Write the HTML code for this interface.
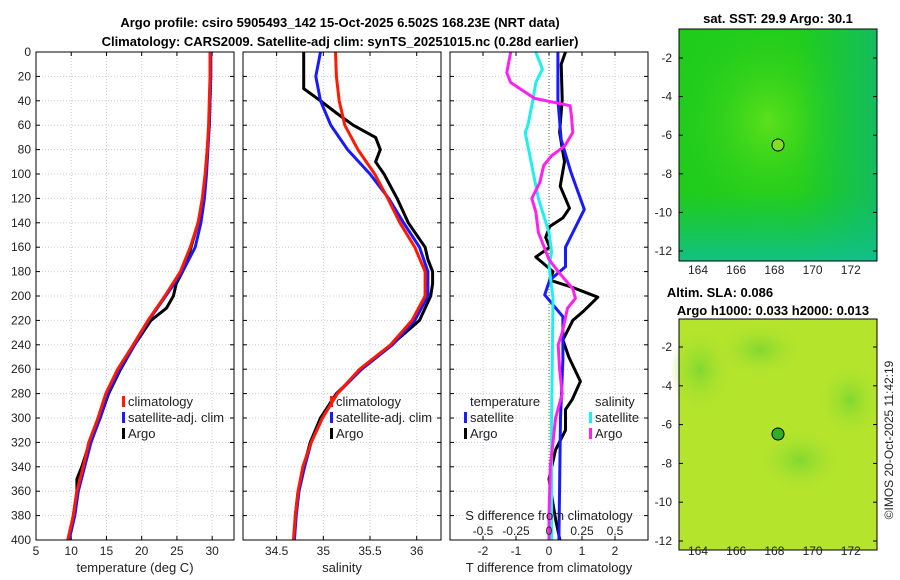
<!DOCTYPE html>
<html><head><meta charset="utf-8"><style>
body{margin:0;background:#fff;}
svg{display:block;font-family:"Liberation Sans","DejaVu Sans",sans-serif;}
</style></head><body>
<svg id="fig" width="900" height="580" viewBox="0 0 900 580">
<defs>
<radialGradient id="sstBlob" cx="0.45" cy="0.4" r="0.5"><stop offset="0" stop-color="#5ce01c"/><stop offset="1" stop-color="#22cc18" stop-opacity="0"/></radialGradient>
<linearGradient id="sstTop" x1="0" y1="0" x2="1" y2="0"><stop offset="0.6" stop-color="#10c060" stop-opacity="0"/><stop offset="1" stop-color="#10b870" stop-opacity="0.8"/></linearGradient>
<linearGradient id="sstBot" x1="0" y1="0" x2="0" y2="1"><stop offset="0.7" stop-color="#10c070" stop-opacity="0"/><stop offset="1" stop-color="#10c090" stop-opacity="0.9"/></linearGradient>
<radialGradient id="slaBlob" cx="0.5" cy="0.5" r="0.5"><stop offset="0" stop-color="#80d830"/><stop offset="1" stop-color="#a8e030" stop-opacity="0"/></radialGradient>
</defs>
<text x="340" y="27" text-anchor="middle" font-size="13" font-weight="bold">Argo profile: csiro 5905493_142 15-Oct-2025 6.502S 168.23E (NRT data)</text>
<text x="340" y="46" text-anchor="middle" font-size="13" font-weight="bold">Climatology: CARS2009. Satellite-adj clim: synTS_20251015.nc (0.28d earlier)</text>
<g id="panels"></g>
<g>
<text x="778" y="23" text-anchor="middle" font-size="13" font-weight="bold">sat. SST: 29.9 Argo: 30.1</text>
<rect x="679" y="29" width="198" height="232" fill="#1fcc1c"/>
<rect x="679" y="29" width="198" height="232" fill="url(#sstBlob)"/>
<rect x="679" y="29" width="198" height="232" fill="url(#sstTop)"/>
<rect x="679" y="29" width="198" height="232" fill="url(#sstBot)"/>
<circle cx="778" cy="145" r="6" fill="#7ee020" stroke="#000" stroke-width="1"/>
<rect x="679" y="29" width="198" height="232" fill="none" stroke="#000"/>
</g>
<g>
<text x="720" y="297" text-anchor="middle" font-size="13" font-weight="bold">Altim. SLA: 0.086</text>
<text x="773" y="315" text-anchor="middle" font-size="13" font-weight="bold">Argo h1000: 0.033 h2000: 0.013</text>
<rect x="679" y="319" width="198" height="231" fill="#b4e42c"/>
<ellipse cx="700" cy="370" rx="30" ry="40" fill="url(#slaBlob)"/>
<ellipse cx="800" cy="460" rx="40" ry="30" fill="url(#slaBlob)"/>
<ellipse cx="760" cy="350" rx="40" ry="25" fill="url(#slaBlob)"/>
<ellipse cx="850" cy="400" rx="30" ry="35" fill="url(#slaBlob)"/>
<circle cx="778" cy="434" r="6" fill="#30b020" stroke="#000" stroke-width="1"/>
<rect x="679" y="319" width="198" height="231" fill="none" stroke="#000"/>
</g>
<g id="mapaxes"></g>
<text transform="translate(893,440) rotate(-90)" text-anchor="middle" font-size="12" fill="#222">©IMOS 20-Oct-2025 11:42:19</text>
</svg>
<script>
// ---- data ----
const depths = [0,20,40,60,80,100,120,140,160,180,200,220,240,260,280,300,320,340,360,380,400];
const tempClim = [29.7,29.7,29.6,29.5,29.3,29.0,28.6,28.0,26.9,25.5,23.3,20.9,18.8,16.6,14.9,13.8,12.5,11.7,10.8,10.3,9.5];
const tempSat  = [29.8,29.8,29.7,29.6,29.4,29.2,28.9,28.4,27.6,25.8,23.4,21.0,19.0,16.9,15.2,14.1,12.8,11.9,11.0,10.5,9.7];
const tempArgoDepths = [0,20,40,60,80,100,120,140,160,170,180,190,200,210,220,240,260,280,300,320,340,350,360,380,400];
const tempArgo = [29.8,29.8,29.7,29.6,29.3,29.1,28.8,28.0,27.0,26.5,25.8,24.9,24.5,23.5,21.3,19.0,17.0,15.3,14.1,12.6,11.5,10.8,10.8,10.3,9.7];
const salClim = [35.13,35.14,35.17,35.23,35.37,35.55,35.69,35.82,35.98,36.09,36.09,35.95,35.72,35.39,35.15,34.99,34.87,34.78,34.73,34.70,34.68];
const salSat  = [34.97,34.92,34.97,35.08,35.26,35.50,35.70,35.86,36.03,36.12,36.12,35.98,35.74,35.41,35.15,34.99,34.87,34.80,34.74,34.71,34.69];
const salArgoDepths = [0,30,40,50,60,70,80,90,100,120,140,160,170,180,190,200,220,240,260,280,300,320,340,360,380,400];
const salArgo = [34.79,34.79,34.97,35.14,35.32,35.56,35.61,35.56,35.65,35.79,35.91,36.09,36.12,36.17,36.17,36.15,36.03,35.73,35.41,35.14,34.97,34.86,34.79,34.73,34.70,34.69];
const dTSatDepths = [0,39,72,99,129,160,176,187,199,217,252,300,400];
const dTempSat = [0.27,0.27,0.37,0.67,1.07,0.5,0.5,0.02,-0.13,0.42,0.42,0.35,0.3];
const dTArgoDepths = [0,10,39,66,90,110,128,136,143,152,160,168,180,187,193,201,213,220,236,250,270,285,293,310,326,350,367,383,400];
const dTempArgo = [0.5,0.37,0.4,0.32,0.47,0.34,0.62,0.42,0.02,-0.1,0.02,-0.4,0.12,0.02,0.72,1.48,1.02,0.72,0.42,0.6,0.95,0.7,0.5,0.5,0.2,0.0,0.1,0.2,0.33];
const dSSatDepths = [0,14,25,38,60,66,93,120,148,164,175,202,300,400];
const dSalSat = [-0.1,-0.05,-0.1,-0.12,-0.16,-0.18,-0.13,-0.08,0.0,0.02,0.0,0.03,0.02,0.02];
const dSArgoDepths = [0,17,25,38,44,52,66,77,85,93,107,120,131,148,159,170,180,194,202,210,230,240,260,280,300,340,380,400];
const dSalArgo = [-0.29,-0.32,-0.29,-0.11,0.16,0.17,0.18,0.12,0.02,-0.04,-0.07,-0.13,-0.1,-0.08,-0.04,0.0,0.07,0.18,0.2,0.14,0.1,0.07,0.08,0.1,0.05,0.01,0.0,0.0];
const depthTicks = [0,20,40,60,80,100,120,140,160,180,200,220,240,260,280,300,320,340,360,380,400];
const tempTicks = [5,10,15,20,25,30];
const salTicks = [34.5,35,35.5,36];
const dTTicks = [-2,-1,0,1,2];
const dSTicks = [-0.5,-0.25,0,0.25,0.5];
const dSTickLabels = ['-0.5','-0.25','0','0.25','0.5'];
const latTicks = [-2,-4,-6,-8,-10,-12];
const lonTicks = [164,166,168,170,172];

const NS='http://www.w3.org/2000/svg';
function mk(tag,attrs,parent,txt){const e=document.createElementNS(NS,tag);for(const k in attrs)e.setAttribute(k,attrs[k]);if(txt!==undefined)e.textContent=txt;parent.appendChild(e);return e;}
const Y0=52,Y1=540;
const yD=d=>Y0+(d/400)*(Y1-Y0);
const root=document.getElementById('panels');

function panel(name,x0,x1,vmin,vmax,ticks,labels,xlabel){
  const g=mk('g',{},root);
  
  
  const xs=v=>x0+(v-vmin)/(vmax-vmin)*(x1-x0);
  depthTicks.forEach(d=>{mk('line',{x1:x0,x2:x1,y1:yD(d),y2:yD(d),stroke:'#c8cde0','stroke-dasharray':'1,2','stroke-width':1},g);});
  ticks.forEach(v=>{mk('line',{x1:xs(v),x2:xs(v),y1:Y0,y2:Y1,stroke:'#c8cde0','stroke-dasharray':'1,2','stroke-width':1},g);
    mk('line',{x1:xs(v),x2:xs(v),y1:Y1,y2:Y1-4,stroke:'#000'},g);mk('line',{x1:xs(v),x2:xs(v),y1:Y0,y2:Y0+4,stroke:'#000'},g);});
  depthTicks.forEach(d=>{mk('line',{x1:x0,x2:x0+4,y1:yD(d),y2:yD(d),stroke:'#000'},g);mk('line',{x1:x1,x2:x1-4,y1:yD(d),y2:yD(d),stroke:'#000'},g);});
  if(labels){ticks.forEach((v,i)=>{const t=mk('text',{x:xs(v),y:Y1+15,'text-anchor':'middle','font-size':12,fill:'#222'},g,labels[i]);});}
  const xl=mk('text',{x:(x0+x1)/2,y:572,'text-anchor':'middle','font-size':13,fill:'#222'},g,xlabel);
  
  
  return {g,xs};
}
function line(p,vals,dep,color,name){
  const pts=vals.map((v,i)=>p.xs(v).toFixed(1)+','+yD(dep[i]).toFixed(1)).join(' ');
  const e=mk('polyline',{points:pts,fill:'none',stroke:color,'stroke-width':3,'stroke-linejoin':'round'},p.g);
  
  
}
function frame(p,x0,x1){mk('rect',{x:x0,y:Y0,width:x1-x0,height:Y1-Y0,fill:'none',stroke:'#000'},p.g);}
function legend(g,x,y,color,label,name){
  mk('rect',{x:x-6,y:y-10,width:3,height:11,fill:color},g);
  const t=mk('text',{x:x,y:y,'font-size':13,fill:'#222'},g,label);
  
  
}

// panel 1: temperature
const p1=panel('temperature-panel',36,234,5,33.1,tempTicks,tempTicks.map(String),'temperature (deg C)');
depthTicks.forEach(d=>{const t=mk('text',{x:31,y:yD(d)+4,'text-anchor':'end','font-size':12,fill:'#222'},p1.g,String(d));});
line(p1,tempArgo,tempArgoDepths,'#000','temp-argo-line');
line(p1,tempSat,depths,'#1a1aff','temp-satellite-line');
line(p1,tempClim,depths,'#ff1a00','temp-climatology-line');
legend(p1.g,128,406,'#ff1a00','climatology','legend-climatology');
legend(p1.g,128,422,'#1a1aff','satellite-adj. clim','legend-satellite');
legend(p1.g,128,438,'#000','Argo','legend-argo');
frame(p1,36,234);

// panel 2: salinity
const p2=panel('salinity-panel',243,441,34.14,36.26,salTicks,salTicks.map(String),'salinity');
line(p2,salArgo,salArgoDepths,'#000','sal-argo-line');
line(p2,salSat,depths,'#1a1aff','sal-satellite-line');
line(p2,salClim,depths,'#ff1a00','sal-climatology-line');
legend(p2.g,336,406,'#ff1a00','climatology','legend-climatology');
legend(p2.g,336,422,'#1a1aff','satellite-adj. clim','legend-satellite');
legend(p2.g,336,438,'#000','Argo','legend-argo');
frame(p2,243,441);

// panel 3: differences
const p3=panel('difference-panel',450,648,-3,3,dTTicks,dTTicks.map(String),'T difference from climatology');
mk('line',{x1:p3.xs(0),x2:p3.xs(0),y1:Y0,y2:Y1,stroke:'#336633','stroke-dasharray':'1,2'},p3.g);
const sScale={g:p3.g,xs:v=>p3.xs(v*4)};
line(p3,dTempArgo,dTArgoDepths,'#000','dtemp-argo-line');
line(p3,dTempSat,dTSatDepths,'#1a1aff','dtemp-satellite-line');
line(sScale,dSalSat,dSSatDepths,'#22eeee','dsal-satellite-line');
line(sScale,dSalArgo,dSArgoDepths,'#ff22ee','dsal-argo-line');
let t=mk('text',{x:470,y:406,'font-size':13,fill:'#222'},p3.g,'temperature');


legend(p3.g,470,422,'#1a1aff','satellite','legend-temp-satellite');
legend(p3.g,470,438,'#000','Argo','legend-temp-argo');
t=mk('text',{x:595,y:406,'font-size':13,fill:'#222'},p3.g,'salinity');


legend(p3.g,595,422,'#22eeee','satellite','legend-sal-satellite');
legend(p3.g,595,438,'#ff22ee','Argo','legend-sal-argo');
t=mk('text',{x:549,y:520,'text-anchor':'middle','font-size':13,fill:'#222'},p3.g,'S difference from climatology');


dSTicks.forEach((v,i)=>{const e=mk('text',{x:sScale.xs(v),y:535,'text-anchor':'middle','font-size':12,fill:'#222'},p3.g,dSTickLabels[i]);});
frame(p3,450,648);

// map axes
const ma=document.getElementById('mapaxes');
const lonX=l=>698+(l-164)*19.1;
[[58,251,274],[347,541,555]].forEach(([ya,yb,ly],mi)=>{
  const latY=la=>ya+(-2-la)/10*(yb-ya);
  latTicks.forEach(la=>{mk('line',{x1:679,x2:683,y1:latY(la),y2:latY(la),stroke:'#000'},ma);mk('line',{x1:877,x2:873,y1:latY(la),y2:latY(la),stroke:'#000'},ma);
    const e=mk('text',{x:672,y:latY(la)+4,'text-anchor':'end','font-size':12,fill:'#222'},ma,String(la));});
  lonTicks.forEach(lo=>{const e=mk('text',{x:lonX(lo),y:ly,'text-anchor':'middle','font-size':12,fill:'#222'},ma,String(lo));});
});
</script>
</body></html>
